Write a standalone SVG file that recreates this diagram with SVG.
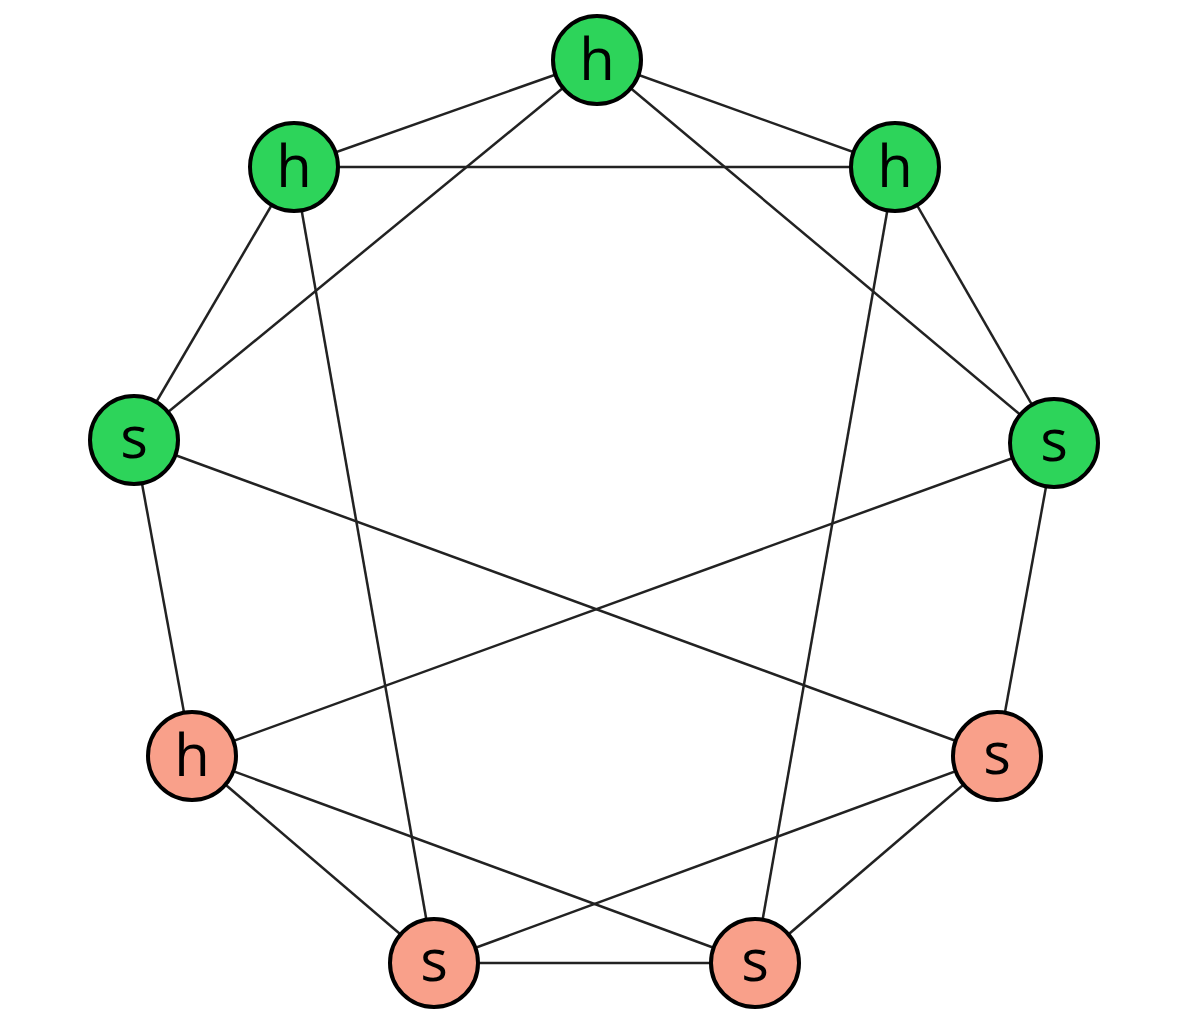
<svg xmlns="http://www.w3.org/2000/svg" width="1196" height="1029" viewBox="0 0 1196 1029">
<style>
.e{stroke:#222;stroke-width:2.5;fill:none}
.g{fill:#2dd45a;stroke:#000;stroke-width:4}
.r{fill:#f9a08a;stroke:#000;stroke-width:4}
text{font-family:"Open Sans","Liberation Sans",sans-serif;font-size:58px;text-anchor:middle;fill:#000}
</style>
<rect width="1196" height="1029" fill="#fff"/>
<g id="edges">
<line class="e" x1="597" y1="60" x2="294" y2="167"/>
<line class="e" x1="597" y1="60" x2="895" y2="167"/>
<line class="e" x1="597" y1="60" x2="134" y2="440"/>
<line class="e" x1="597" y1="60" x2="1054" y2="443"/>
<line class="e" x1="294" y1="167" x2="895" y2="167"/>
<line class="e" x1="294" y1="167" x2="134" y2="440"/>
<line class="e" x1="294" y1="167" x2="434" y2="963"/>
<line class="e" x1="895" y1="167" x2="1054" y2="443"/>
<line class="e" x1="895" y1="167" x2="755" y2="963"/>
<line class="e" x1="134" y1="440" x2="192" y2="756"/>
<line class="e" x1="134" y1="440" x2="997" y2="756"/>
<line class="e" x1="1054" y1="443" x2="997" y2="756"/>
<line class="e" x1="1054" y1="443" x2="192" y2="756"/>
<line class="e" x1="192" y1="756" x2="434" y2="963"/>
<line class="e" x1="192" y1="756" x2="755" y2="963"/>
<line class="e" x1="997" y1="756" x2="434" y2="963"/>
<line class="e" x1="997" y1="756" x2="755" y2="963"/>
<line class="e" x1="434" y1="963" x2="755" y2="963"/>
</g>
<g id="n1"><circle class="g" cx="597" cy="60" r="44"/><text x="597" y="80">h</text></g>
<g id="n2"><circle class="g" cx="294" cy="167" r="44"/><text x="294" y="187">h</text></g>
<g id="n3"><circle class="g" cx="895" cy="167" r="44"/><text x="895" y="187">h</text></g>
<g id="n4"><circle class="g" cx="134" cy="440" r="44"/><text x="134" y="458">s</text></g>
<g id="n5"><circle class="g" cx="1054" cy="443" r="44"/><text x="1054" y="461">s</text></g>
<g id="n6"><circle class="r" cx="192" cy="756" r="44"/><text x="192" y="776">h</text></g>
<g id="n7"><circle class="r" cx="997" cy="756" r="44"/><text x="997" y="774">s</text></g>
<g id="n8"><circle class="r" cx="434" cy="963" r="44"/><text x="434" y="981">s</text></g>
<g id="n9"><circle class="r" cx="755" cy="963" r="44"/><text x="755" y="981">s</text></g>
</svg>
